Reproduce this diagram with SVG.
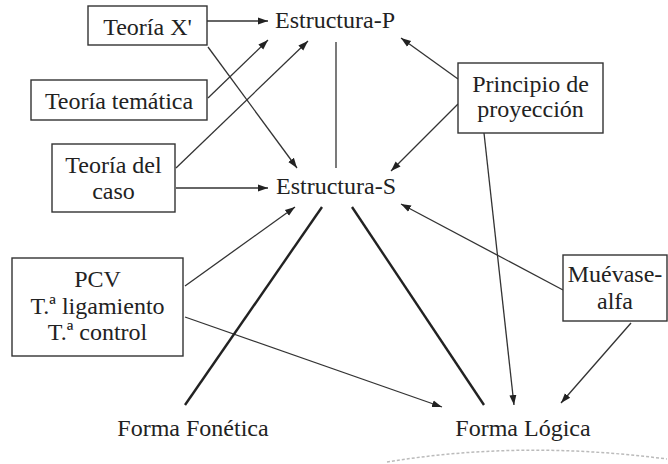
<svg xmlns="http://www.w3.org/2000/svg" width="668" height="464" viewBox="0 0 668 464">
<defs>
<style>
.box{fill:#fff;stroke:#333;stroke-width:1.4}
.c{stroke:#333;stroke-width:1.3;fill:none}
.a{marker-end:url(#ah)}
.t{stroke:#222;stroke-width:2.4;fill:none}
</style>
<marker id="ah" viewBox="0 0 10 10" refX="10" refY="5" markerWidth="10" markerHeight="10" markerUnits="userSpaceOnUse" orient="auto">
<path d="M0,1.5 L10,5 L0,8.5 Z" fill="#222"/>
</marker>
</defs>
<rect width="668" height="464" fill="#fff"/>
<g id="connectors">
<line class="c a" x1="207" y1="21" x2="268" y2="21"/>
<line class="c a" x1="208" y1="98" x2="268" y2="40"/>
<line class="c a" x1="176" y1="168" x2="308" y2="41"/>
<line class="c a" x1="176" y1="188" x2="268" y2="188"/>
<line class="c a" x1="208" y1="47" x2="297" y2="168"/>
<line class="c" x1="336" y1="42" x2="336" y2="168"/>
<line class="c a" x1="458" y1="79" x2="401" y2="38"/>
<line class="c a" x1="458" y1="104" x2="391" y2="171"/>
<line class="c a" x1="484" y1="133" x2="514" y2="405"/>
<line class="c a" x1="563" y1="290" x2="401" y2="204"/>
<line class="c a" x1="631" y1="323" x2="561" y2="403"/>
<line class="c a" x1="185" y1="286" x2="295" y2="207"/>
<line class="c a" x1="185" y1="317" x2="442" y2="407"/>
<line class="t" x1="322" y1="207" x2="185" y2="405"/>
<line class="t" x1="352" y1="207" x2="484" y2="405"/>
<path d="M387,462 Q520,440 667,459" fill="none" stroke="#bbb" stroke-width="1.5" stroke-dasharray="3 2"/>
</g>
<g font-family="Liberation Serif" font-size="24" fill="#222" text-anchor="middle">
<g id="estructura-p"><text x="335" y="28">Estructura-P</text></g>
<g id="estructura-s"><text x="336" y="194">Estructura-S</text></g>
<g id="forma-fonetica"><text x="193" y="436">Forma Fonética</text></g>
<g id="forma-logica"><text x="523" y="436">Forma Lógica</text></g>
<g id="teoria-x"><rect class="box" x="88" y="6" width="119" height="39"/><text x="147.5" y="35">Teoría X'</text></g>
<g id="teoria-tematica"><rect class="box" x="31" y="80" width="176" height="40"/><text x="119" y="109">Teoría temática</text></g>
<g id="teoria-caso"><rect class="box" x="52" y="144" width="123" height="68"/><text x="113.5" y="173">Teoría del</text><text x="113.5" y="199">caso</text></g>
<g id="principio"><rect class="box" x="458" y="63" width="145" height="70"/><text x="530.5" y="92">Principio de</text><text x="530.5" y="117">proyección</text></g>
<g id="pcv"><rect class="box" x="12" y="258" width="171" height="98"/><text x="97.5" y="287">PCV</text><text x="97.5" y="314">T.ª ligamiento</text><text x="97.5" y="340">T.ª control</text></g>
<g id="muevase"><rect class="box" x="563" y="255" width="104" height="66"/><text x="615" y="282">Muévase-</text><text x="615" y="309">alfa</text></g>
</g>
</svg>
